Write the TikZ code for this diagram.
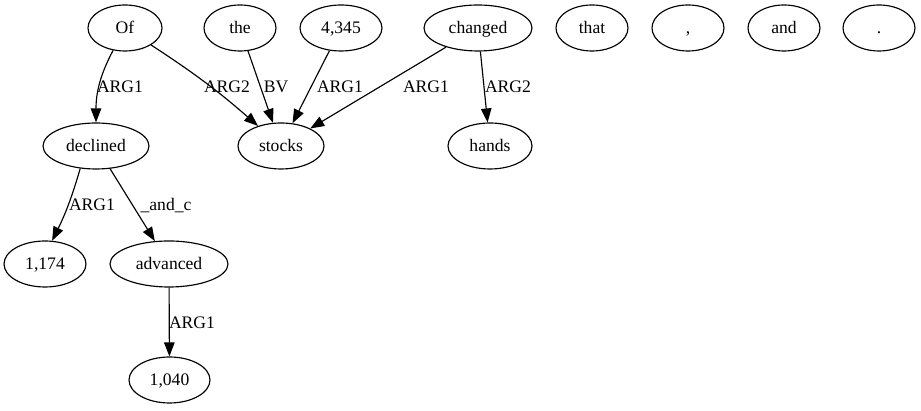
\documentclass[tikz,border=0pt]{standalone}
\usepackage{fontspec}
\setmainfont{Liberation Serif}
\usetikzlibrary{shapes.geometric,arrows.meta}
\tikzset{
  tok/.style={ellipse,draw,line width=1.15pt,inner sep=0pt,minimum height=46pt,text height=13pt,text depth=1pt,font=\fontsize{17.6}{20}\selectfont},
  lbl/.style={inner sep=0pt,text height=13pt,text depth=1pt,font=\fontsize{17.6}{20}\selectfont},
  edge/.style={line width=1.15pt,-{Triangle[length=14pt,width=10.5pt]}}
}
\begin{document}
\begin{tikzpicture}[x=1pt,y=1pt]
\useasboundingbox (0,0) rectangle (921,411);
% top row
\node[tok,minimum width=74pt] (Of) at (125,383) {Of};
\node[tok,minimum width=72pt] (the) at (240,383) {the};
\node[tok,minimum width=82pt] (n4345) at (341,383) {4,345};
\node[tok,minimum width=108pt] (changed) at (478,383) {changed};
\node[tok,minimum width=72pt] (that) at (592,383) {that};
\node[tok,minimum width=72pt] (comma) at (688,383) {,};
\node[tok,minimum width=72pt] (and) at (784,383) {and};
\node[tok,minimum width=72pt] (period) at (879,383) {.};
% second row
\node[tok,minimum width=106pt] (declined) at (96,265) {declined};
\node[tok,minimum width=86pt] (stocks) at (281,265) {stocks};
\node[tok,minimum width=84pt] (hands) at (490,265) {hands};
% third row
\node[tok,minimum width=82pt] (n1174) at (45,147) {1,174};
\node[tok,minimum width=118pt] (advanced) at (169,147) {advanced};
% fourth row
\node[tok,minimum width=81pt] (n1040) at (169.5,31) {1,040};
% edges
\draw[edge] (Of) to[out=-118,in=90] (declined.north);
\draw[edge] (Of) to[bend left=4] (stocks);
\draw[edge] (the) -- (stocks);
\draw[edge] (n4345) -- (stocks);
\draw[edge] (changed) -- (stocks);
\draw[edge] (changed) -- (hands);
\draw[edge] (declined.235) to[bend left=5] (n1174.73);
\draw[edge] (declined) -- (advanced);
\draw[edge] (advanced) -- (n1040);
% labels
\node[lbl] (l1) at (120,324) {ARG1};
\node[lbl] (l2) at (227,324) {ARG2};
\node[lbl] (l3) at (276,324) {BV};
\node[lbl] (l4) at (340,324) {ARG1};
\node[lbl] (l5) at (426,324) {ARG1};
\node[lbl] (l6) at (508,324) {ARG2};
\node[lbl] (l7) at (92,206) {ARG1};
\node[lbl] (l8) at (166,206) {\_and\_c};
\node[lbl] (l9) at (192,88) {ARG1};
\end{tikzpicture}
\end{document}
